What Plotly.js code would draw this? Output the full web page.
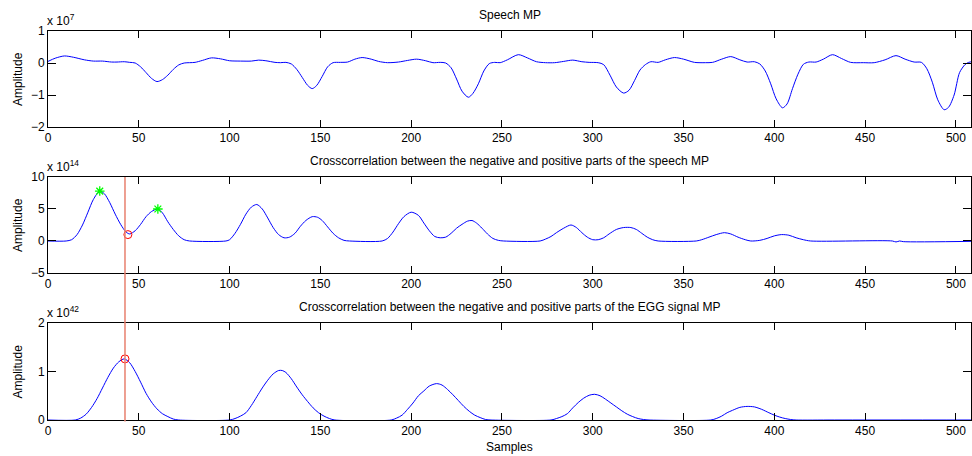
<!DOCTYPE html>
<html>
<head>
<meta charset="utf-8">
<script src="https://cdn.plot.ly/plotly-3.0.1.min.js"></script>
<style>html,body{margin:0;padding:0;background:#fff;}#chart{width:972px;height:456px;}</style>
</head>
<body>
<div id="chart"></div>
<script>
// ---- Panel 1: Speech MP (x 10^7) ----
const speechX = [0,4,9,14,20,25,30,35,38,42,45,48,51,54,57,60,63,66,69,72,75,78,81,85,90,95,100,106,112,116,120,125,128,131,134,137,140,143,145.5,148,151,154,157,161,165,169,173,178,182,187,193,198,203,208,212,216,219,222,225,228,231.5,234,237,240,243,246,249,253,259,264,269,274,279,284,289,294,298,303,306,309.5,313,317,320,323,326,329,332,336,340,345,350,356,362,366,371,376,381,385,389,392,395,398,401,404.5,407,410,413,416,419,423,427,432,437,442,449,455,461,467,472,477,481,484,487,490,493.5,496,499,502,505,507,510];
const speechY = [0.05,0.15,0.22,0.18,0.10,0.06,0.06,0.03,0.03,0.04,0.02,0.00,-0.12,-0.30,-0.48,-0.58,-0.52,-0.38,-0.20,-0.06,0.00,0.01,0.02,0.08,0.16,0.13,0.07,0.06,0.06,0.09,0.07,0.02,0.01,0.02,-0.03,-0.20,-0.45,-0.70,-0.80,-0.70,-0.42,-0.12,0.01,0.02,0.03,0.12,0.17,0.12,0.05,0.01,0.03,0.08,0.12,0.07,0.01,0.02,0.00,-0.15,-0.50,-0.88,-1.07,-0.95,-0.65,-0.25,-0.02,0.02,0.01,0.10,0.26,0.16,0.04,0.01,0.01,0.05,0.09,0.04,0.02,0.01,-0.05,-0.38,-0.75,-0.94,-0.85,-0.55,-0.22,-0.05,0.04,0.02,0.10,0.17,0.12,0.02,0.01,0.02,0.12,0.20,0.10,0.03,0.04,-0.03,-0.25,-0.65,-1.12,-1.40,-1.28,-0.80,-0.35,-0.04,0.03,0.03,0.12,0.26,0.14,0.02,0.01,0.01,0.10,0.23,0.12,0.03,0.02,-0.18,-0.60,-1.15,-1.46,-1.38,-1.00,-0.30,-0.05,0.02,0.05];

// ---- Panel 2: crosscorrelation of speech MP (x 10^14) ----
const xcSpeechX = [0,10,13,16,19,22,25,28.5,31,34,37,40,43,45,48,51,54,57,60.5,63,66,69,72,75,78,98,100,103,106,109,112,115,118,121,124,127,130,133,136,139,142,145.5,148.5,151,154,157,160,163,166,184,187,190,193,196,200,204,207,210,213,216,219,222,225,228,231,233.5,236,239,242,245,248,251,271,274,277,280,284,288,291,294,297,300,303,306,309,313,317,321,324,327,330,333,336,357,360,364,368,372.5,376,380,384,387,392,396,400,404,408,412,416,420,465,467,469,471,510];
const xcSpeechY = [0,0,0.2,1.0,2.5,4.5,6.5,7.8,7.4,6.0,4.2,2.6,1.4,1.1,1.6,2.6,3.8,4.6,5.0,4.4,3.0,1.8,0.8,0.2,0,0,0.2,1.2,2.6,4.2,5.3,5.7,5.0,3.6,2.1,1.0,0.5,0.6,1.2,2.3,3.2,3.8,3.7,3.2,2.2,1.2,0.5,0.1,0,0,0.4,1.4,2.7,3.8,4.5,4.0,2.8,1.6,0.7,0.5,0.6,1.2,2.0,2.6,3.1,3.2,2.8,2.0,1.1,0.4,0.1,0,0,0.3,0.7,1.3,2.0,2.5,2.1,1.3,0.6,0.2,0.2,0.5,1.1,1.8,2.1,2.1,1.8,1.2,0.6,0.2,0,0,0.2,0.6,1.0,1.3,1.1,0.6,0.2,0,0.1,0.4,0.8,1.0,0.9,0.5,0.2,0,0,-0.15,0,-0.1,-0.05];
const peakX = [28.5, 60.5];
const peakY = [7.8, 5.0];
const valleyX = [44];
const valleyY = [1.0];

// ---- Panel 3: crosscorrelation of EGG signal MP (x 10^42) ----
const xcEggX = [0,15,18,21,24,27,30,33,36,39,42,45,48,51,54,57,60,63,66,69,72,100,103,106,109,112,115,118,121,124,127,129,131,134,137,140,143,146,149,152,155,158,189,192,195,198,201,204,207,210,214,217,220,223,226,229,232,235,238,241,244,277,280,283,286,289,292,295,298,301,304,307,310,313,316,319,322,325,328,331,365,368,371,374,377,381,385,389,393,397,400,403,406,409,412,433,510];
const xcEggY = [0,0,0.04,0.12,0.26,0.44,0.66,0.88,1.07,1.2,1.26,1.18,1.0,0.78,0.55,0.37,0.23,0.13,0.07,0.02,0,0,0.03,0.08,0.15,0.3,0.48,0.66,0.82,0.95,1.02,1.02,0.98,0.85,0.68,0.52,0.38,0.25,0.15,0.08,0.03,0,0,0.04,0.1,0.22,0.35,0.5,0.6,0.7,0.75,0.72,0.63,0.52,0.4,0.28,0.18,0.1,0.05,0.01,0,0,0.03,0.07,0.13,0.25,0.36,0.45,0.51,0.53,0.5,0.43,0.35,0.27,0.19,0.12,0.07,0.03,0.01,0,0,0.03,0.08,0.15,0.2,0.26,0.28,0.27,0.22,0.15,0.1,0.06,0.03,0.01,0,0,0];
const eggMarkX = [42.4];
const eggMarkY = [1.26];
const gciSample = 42.4;

const xTicks = [0,50,100,150,200,250,300,350,400,450,500];
const titles = ["Speech MP",
  "Crosscorrelation between the negative and positive parts of the speech MP",
  "Crosscorrelation between the negative and positive parts of the EGG signal MP"];
const exponents = ["x 10<sup>7</sup>", "x 10<sup>14</sup>", "x 10<sup>42</sup>"];

const FONT = "Liberation Sans, Arial, sans-serif";
const FS = 12;
const lineStyle = {color: "#0000FF", width: 1, shape: "spline", smoothing: 0.8};

const traces = [
  {x: speechX, y: speechY, xaxis: "x", yaxis: "y", mode: "lines", line: lineStyle, hoverinfo: "skip"},
  {x: xcSpeechX, y: xcSpeechY, xaxis: "x2", yaxis: "y2", mode: "lines", line: lineStyle, hoverinfo: "skip"},
  {x: peakX, y: peakY, xaxis: "x2", yaxis: "y2", mode: "markers",
   marker: {symbol: "asterisk-open", size: 8, color: "#00FF00", line: {color: "#00FF00", width: 1.3}}},
  {x: valleyX, y: valleyY, xaxis: "x2", yaxis: "y2", mode: "markers",
   marker: {symbol: "circle-open", size: 8, color: "#FF0000", line: {color: "#FF0000", width: 1}}},
  {x: xcEggX, y: xcEggY, xaxis: "x3", yaxis: "y3", mode: "lines", line: lineStyle, hoverinfo: "skip"},
  {x: eggMarkX, y: eggMarkY, xaxis: "x3", yaxis: "y3", mode: "markers",
   marker: {symbol: "circle-open", size: 8, color: "#FF0000", line: {color: "#FF0000", width: 1}}}
];

const domains = [[0.7532, 1], [0.3779, 0.6247], [0, 0.2494]];
const yRanges = [[-2, 1], [-5, 10], [0, 2]];
const yTicks = [[-2, -1, 0, 1], [-5, 0, 5, 10], [0, 1, 2]];
const XMAX = 508.3;

const baseAxis = {
  showline: true, linecolor: "#000", linewidth: 1, mirror: "ticks",
  ticks: "inside", tickcolor: "#000", tickwidth: 1, showgrid: false, zeroline: false,
  tickfont: {family: FONT, size: FS, color: "#000"}, fixedrange: true
};

const layout = {
  width: 972, height: 456,
  margin: {l: 48, r: 1, t: 31, b: 36},
  paper_bgcolor: "#fff", plot_bgcolor: "#fff",
  showlegend: false,
  font: {family: FONT, size: FS, color: "#000"},
  annotations: [], shapes: []
};

for (let i = 0; i < 3; i++) {
  const sx = i === 0 ? "" : String(i + 1);
  layout["xaxis" + sx] = Object.assign({}, baseAxis, {
    domain: [0, 1], anchor: "y" + sx, range: [0, XMAX],
    tickmode: "array", tickvals: xTicks, ticklen: 7
  });
  layout["yaxis" + sx] = Object.assign({}, baseAxis, {
    domain: domains[i], anchor: "x" + sx, range: yRanges[i],
    tickmode: "array", tickvals: yTicks[i], ticklen: 8
  });
  layout.annotations.push({
    text: titles[i], xref: "paper", yref: "paper", x: 0.5, y: domains[i][1],
    xanchor: "center", yanchor: "bottom", yshift: 7, showarrow: false,
    font: {family: FONT, size: FS, color: "#000"}
  });
  layout.annotations.push({
    text: exponents[i], xref: "paper", yref: "paper", x: 0, y: domains[i][1],
    xanchor: "left", yanchor: "bottom", xshift: -3, yshift: 1, showarrow: false,
    font: {family: FONT, size: FS, color: "#000"}
  });
  layout.annotations.push({
    text: "Amplitude", xref: "paper", yref: "paper", x: 0,
    y: (domains[i][0] + domains[i][1]) / 2, xanchor: "center", yanchor: "middle",
    xshift: -30, textangle: -90, showarrow: false,
    font: {family: FONT, size: FS, color: "#000"}
  });
}
layout.annotations.push({
  text: "Samples", xref: "paper", yref: "paper", x: 0.5, y: 0,
  xanchor: "center", yanchor: "top", yshift: -18, showarrow: false,
  font: {family: FONT, size: FS, color: "#000"}
});
layout.shapes.push({
  type: "line", xref: "x2", yref: "paper", x0: gciSample, x1: gciSample,
  y0: -0.004, y1: domains[1][1], line: {color: "rgb(232,128,110)", width: 1.5}, layer: "above"
});

Plotly.newPlot("chart", traces, layout, {staticPlot: true, displayModeBar: false});
</script>
</body>
</html>
